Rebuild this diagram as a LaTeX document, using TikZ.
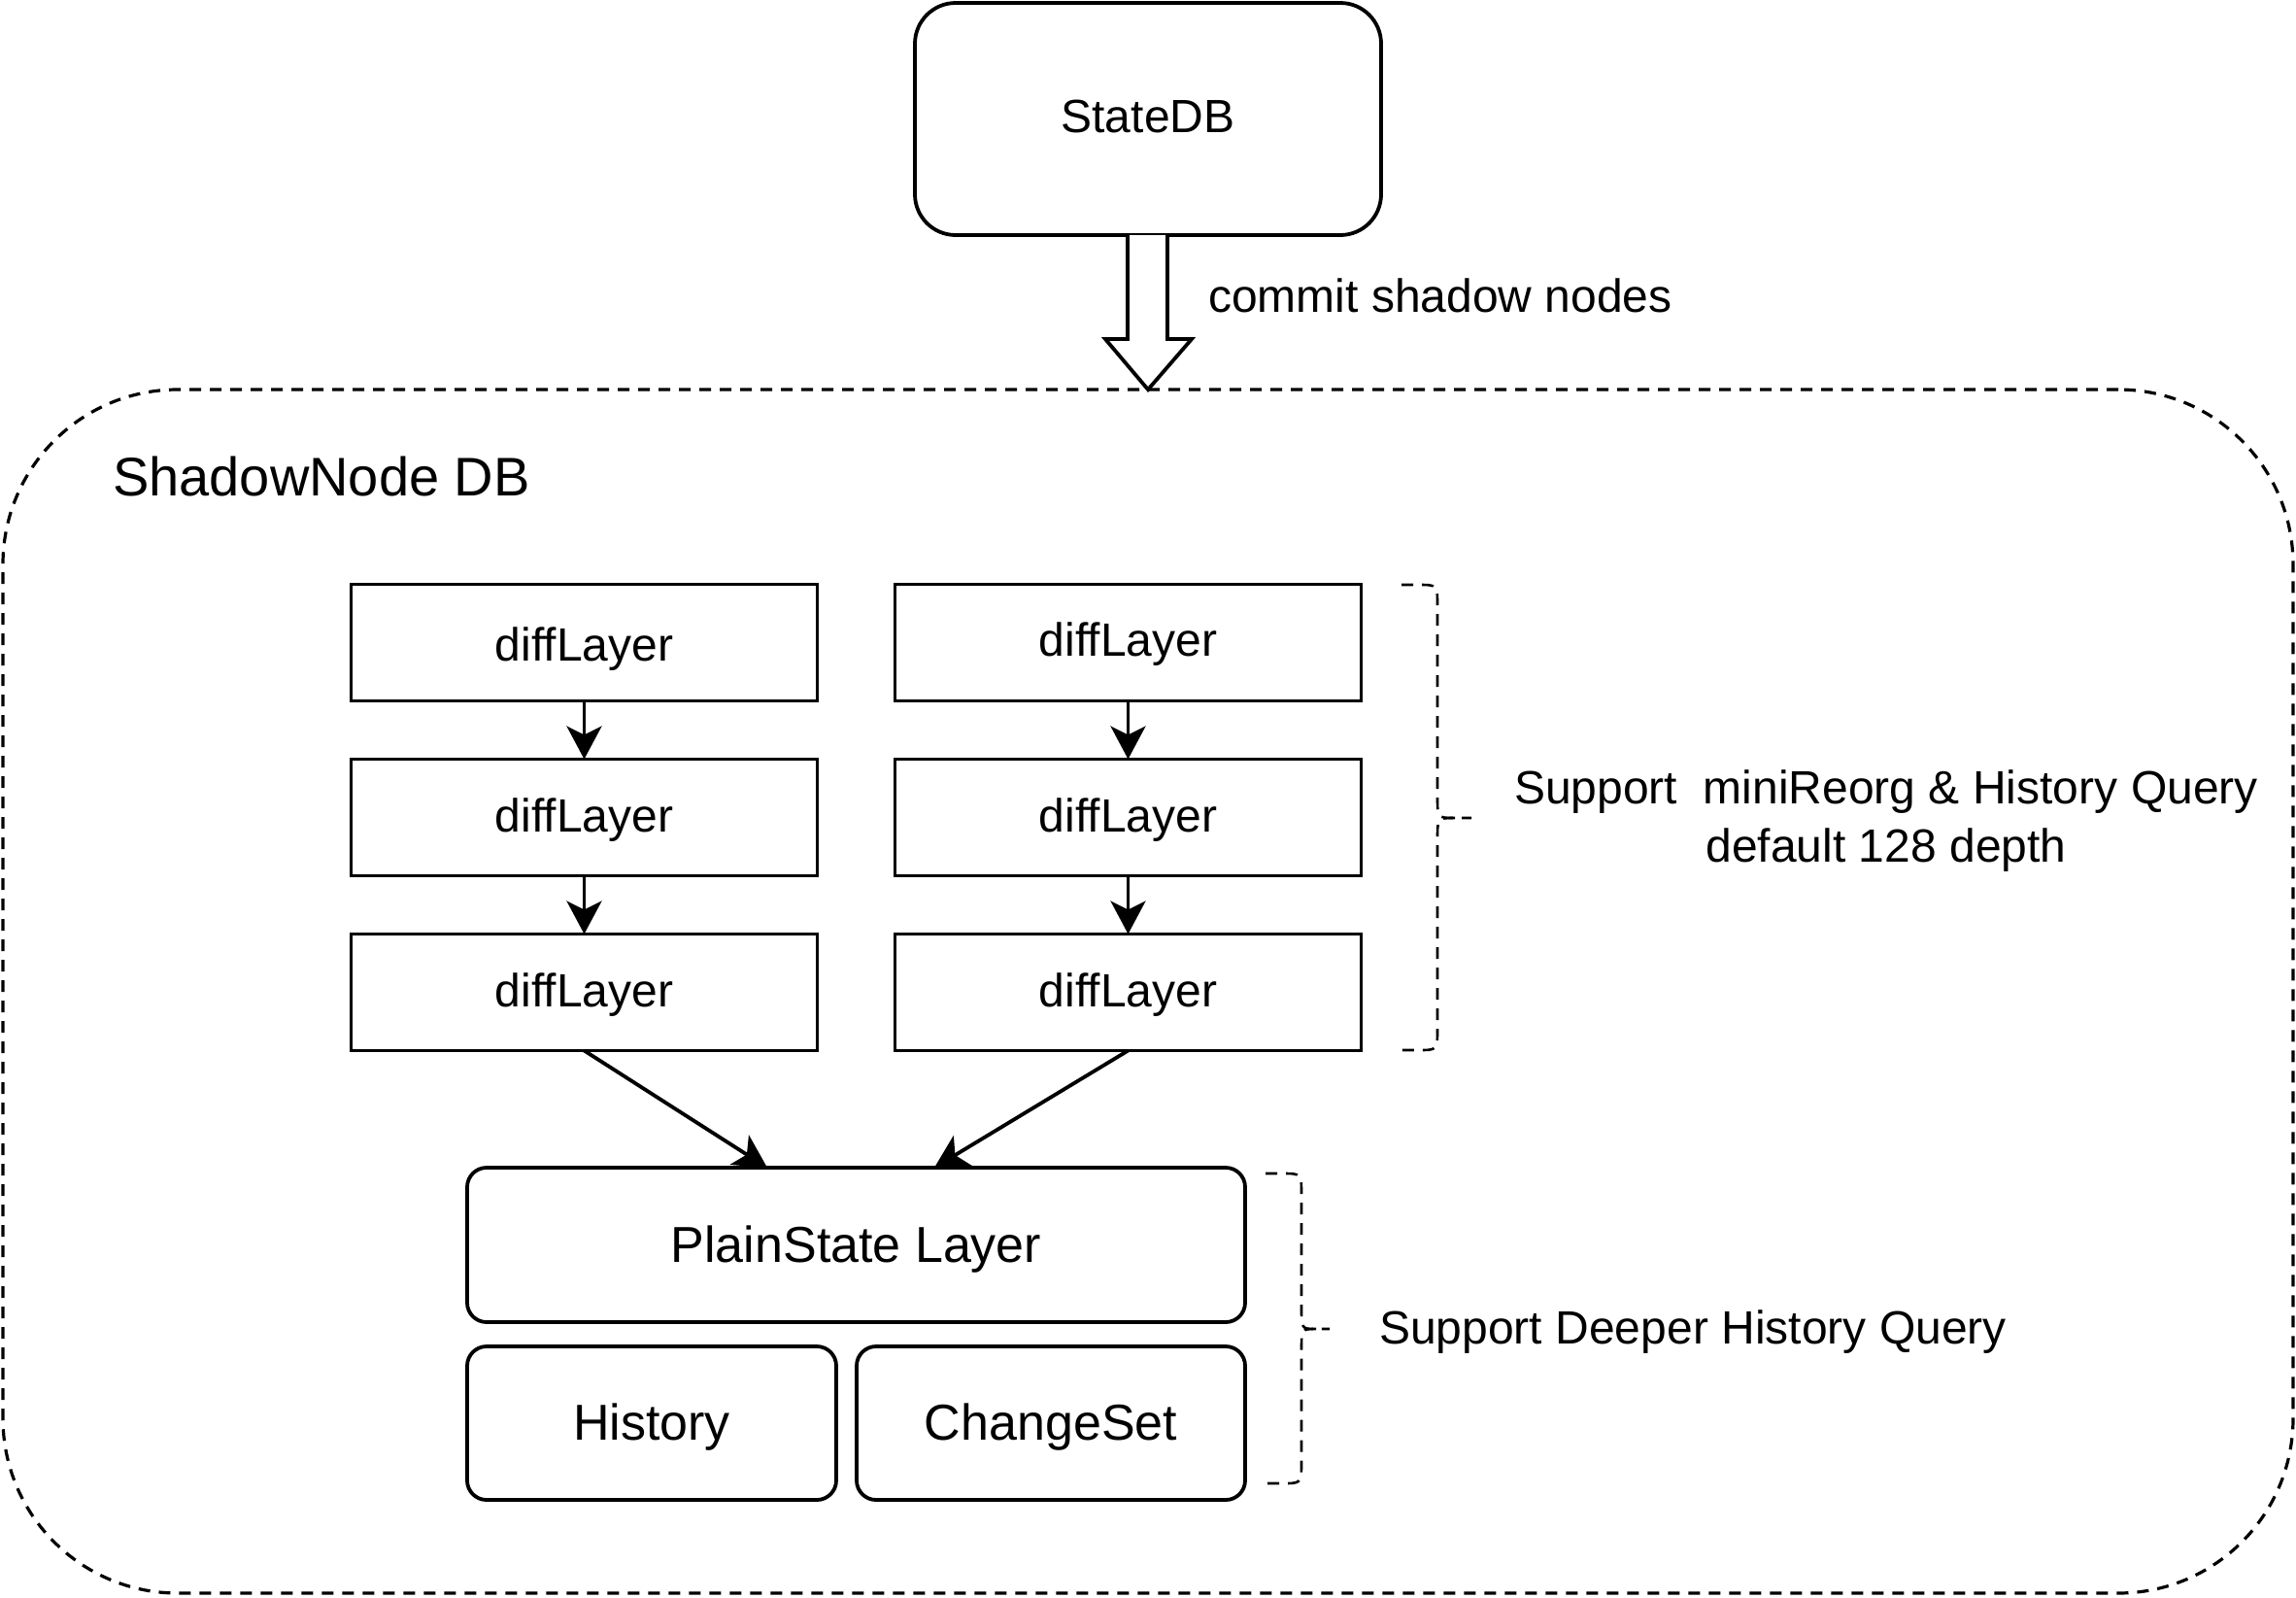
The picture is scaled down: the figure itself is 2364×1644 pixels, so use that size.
\documentclass[tikz,border=0pt]{standalone}
\usepackage{fontspec}
\setmainfont{Liberation Sans}
\usetikzlibrary{arrows.meta,calc}
\begin{document}
\begin{tikzpicture}[x=1pt,y=-1pt,
  lw/.style={line width=3.8pt},
  dashline/.style={line width=3.2pt, dash pattern=on 12pt off 9pt},
  txt/.style={font=\fontsize{48}{60}\selectfont, inner sep=0pt},
  boxsq/.style={lw, draw, minimum width=480pt, minimum height=120pt, inner sep=0pt, outer sep=0pt,
    font=\fontsize{48}{58}\selectfont, text height=40pt, text depth=3pt},
  boxrd/.style={lw, draw, rounded corners=20pt, inner sep=0pt, outer sep=0pt,
    font=\fontsize{52}{62}\selectfont, text height=40pt, text depth=5pt},
  conn/.style={lw, -{Stealth[length=34pt, width=36pt, inset=9pt]}}
]
\useasboundingbox (0,0) rectangle (2364,1644);

% ShadowNode DB container
\node[dashline, draw, rounded corners=180pt, minimum width=2358pt, minimum height=1239pt, inner sep=0pt, outer sep=0pt] (shadow) at (1182,1020.5) {};
\node[anchor=west, inner sep=0pt, font=\fontsize{56}{66}\selectfont] (shadowlbl) at (116,490) {ShadowNode DB};

% StateDB
\node[lw, draw, rounded corners=42pt, minimum width=480pt, minimum height=239pt, inner sep=0pt, outer sep=0pt,
  font=\fontsize{48}{58}\selectfont, text height=30pt, text depth=2pt] (statedb) at (1182,122.5) {StateDB};

% hollow commit arrow
\draw[lw, fill=white, line join=miter]
  ($(statedb.south)+(-21,0)$) -- ($(shadow.north)+(-21,-52)$) -- ($(shadow.north)+(-44,-52)$)
  -- (shadow.north) -- ($(shadow.north)+(45,-52)$) -- ($(shadow.north)+(20,-52)$) -- ($(statedb.south)+(20,0)$);
\node[txt, anchor=west] (commitlbl) at (1244,304) {commit shadow nodes};

% diff layers
\node[boxsq] (l1) at (601.5,661.5) {diffLayer};
\node[boxsq] (l2) at (601.5,841.5) {\raisebox{4pt}{diffLayer}};
\node[boxsq] (l3) at (601.5,1021.5) {\raisebox{4pt}{diffLayer}};
\node[boxsq] (r1) at (1161.5,661.5) {\raisebox{5pt}{diffLayer}};
\node[boxsq] (r2) at (1161.5,841.5) {\raisebox{4pt}{diffLayer}};
\node[boxsq] (r3) at (1161.5,1021.5) {\raisebox{4pt}{diffLayer}};

\draw[conn] (l1.south) -- (l2.north);
\draw[conn] (l2.south) -- (l3.north);
\draw[conn] (r1.south) -- (r2.north);
\draw[conn] (r2.south) -- (r3.north);

% plain state
\node[boxrd, minimum width=801pt, minimum height=159pt] (plain) at (881.5,1281.5) {PlainState Layer};
\node[boxrd, minimum width=380pt, minimum height=158pt] (hist) at (671,1465) {History};
\node[boxrd, minimum width=400pt, minimum height=158pt] (chg) at (1082,1465) {ChangeSet};

\coordinate (pl) at (790,1202);
\coordinate (pr) at (962,1202);
\draw[conn] (l3.south) -- (pl);
\draw[conn] (r3.south) -- (pr);

% brace 1
\coordinate (b1t) at (1443,602);
\coordinate (b1m) at (1515,842);
\coordinate (b1b) at (1443,1081);
\draw[dashline, line width=2.6pt]
  (b1t) -- (1460,602) .. controls (1480,602) .. (1480,624) -- (1480,820)
  .. controls (1480,842) .. (1498,842) -- (b1m);
\draw[dashline, line width=2.6pt]
  (1498,842) .. controls (1480,842) .. (1480,864) -- (1480,1059)
  .. controls (1480,1081) .. (1460,1081) -- (b1b);
\node[txt, align=center] (sup1) at (1942,845) {Support\ \ miniReorg \& History Query\\default 128 depth};

% brace 2
\coordinate (b2t) at (1303,1208);
\coordinate (b2m) at (1369,1368);
\coordinate (b2b) at (1303,1527);
\draw[dashline, line width=2.6pt]
  (b2t) -- (1320,1208) .. controls (1340,1208) .. (1340,1230) -- (1340,1346)
  .. controls (1340,1368) .. (1355,1368) -- (b2m);
\draw[dashline, line width=2.6pt]
  (1355,1368) .. controls (1340,1368) .. (1340,1390) -- (1340,1505)
  .. controls (1340,1527) .. (1320,1527) -- (b2b);
\node[txt, anchor=west] (sup2) at (1420,1371) {Support Deeper History Query};
\end{tikzpicture}
\end{document}
